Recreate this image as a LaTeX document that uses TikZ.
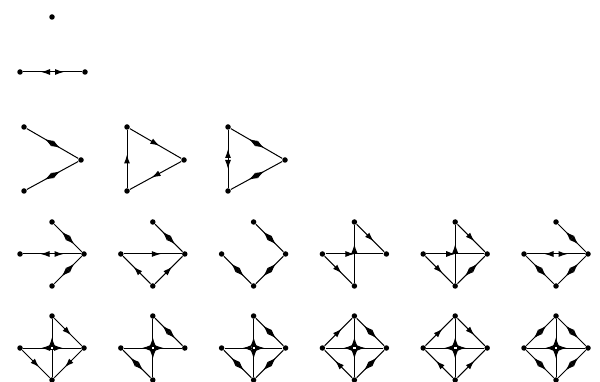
\documentclass[tikz,border=0pt]{standalone}
\usepackage{tikz}
\usetikzlibrary{arrows.meta,decorations.markings}

\tikzset{
  vtx/.style={circle,fill,inner sep=0pt,minimum size=5.5pt},
  hub/.style={draw,fill=white,inner sep=0pt,minimum size=3.5pt,line width=0.6pt},
  one/.style={postaction={decorate},decoration={markings,
    mark=at position 0.5 with {\arrow[xshift=#1]{Latex[length=9pt,width=6pt]}}}},
  one/.default=4.5pt,
  two/.style={postaction={decorate},decoration={markings,
    mark=at position 0.5 with {\arrow[xshift=#1+9pt]{Latex[length=9pt,width=6pt]}},
    mark=at position 0.5 with {\arrowreversed[xshift=-#1-9pt]{Latex[length=9pt,width=6pt]}}}},
  two/.default=0pt
}

\begin{document}
\begin{tikzpicture}[x=1pt, y=-1pt, line width=1pt]
\useasboundingbox (0,0) rectangle (600,382);

% one vertex, two vertices
\node[vtx] (s) at (52,17) {};
\node[vtx] (p1) at (20,72) {};
\node[vtx] (p2) at (85,72) {};
\draw[two=2.5pt] (p1) -- (p2);

% three vertices
\foreach \i/\x in {1/24,2/127,3/228}{
  \node[vtx] (t\i a) at (\x,127) {};
  \node[vtx] (t\i c) at (\x+57,160) {};
  \node[vtx] (t\i b) at (\x,191) {};
}
\draw[two] (t1a) -- (t1c);
\draw[two] (t1b) -- (t1c);
\draw[one] (t2b) -- (t2a);
\draw[one] (t2a) -- (t2c);
\draw[one] (t2c) -- (t2b);
\draw[two=1pt] (t3a) -- (t3b);
\draw[two] (t3a) -- (t3c);
\draw[two] (t3b) -- (t3c);

% four vertices
\foreach \i/\x in {1/52,2/152.8,3/253.6,4/354.4,5/455.2,6/556}{
  \foreach \p/\y in {d/254,e/348}{
    \node[vtx] (\p\i t) at (\x,\y-32) {};
    \node[vtx] (\p\i l) at (\x-32,\y) {};
    \node[vtx] (\p\i r) at (\x+32,\y) {};
    \node[vtx] (\p\i b) at (\x,\y+32) {};
  }
}

% row of four
\draw[two] (d1t) -- (d1r);
\draw[two=2.5pt] (d1l) -- (d1r);
\draw[two] (d1b) -- (d1r);

\draw[two] (d2t) -- (d2r);
\draw[one=8pt] (d2l) -- (d2r);
\draw[one] (d2b) -- (d2r);
\draw[one] (d2b) -- (d2l);

\draw[two] (d3t) -- (d3r);
\draw[two] (d3l) -- (d3b);
\draw[two] (d3b) -- (d3r);

\draw[one] (d4t) -- (d4r);
\draw[one=0pt] (d4l) -- (d4r);
\draw[one=10pt] (d4b) -- (d4t);
\draw[one] (d4l) -- (d4b);

\draw[one] (d5t) -- (d5r);
\draw[one=0pt] (d5l) -- (d5r);
\draw[one=10pt] (d5b) -- (d5t);
\draw[one] (d5l) -- (d5b);
\draw[two] (d5b) -- (d5r);

\draw[two] (d6t) -- (d6r);
\draw[two=2.5pt] (d6l) -- (d6r);
\draw[two] (d6l) -- (d6b);
\draw[two] (d6b) -- (d6r);

% last row, crossing in the middle
\draw[one] (e1t) -- (e1r);
\draw[two=2pt] (e1l) -- (e1r);
\draw[one=11pt] (e1b) -- (e1t);
\draw[one] (e1l) -- (e1b);
\draw[one] (e1r) -- (e1b);

\draw[two] (e2t) -- (e2r);
\draw[two=2pt] (e2l) -- (e2r);
\draw[two=2pt] (e2t) -- (e2b);
\draw[two] (e2l) -- (e2b);

\draw[two] (e3t) -- (e3r);
\draw[two=2pt] (e3l) -- (e3r);
\draw[two=2pt] (e3t) -- (e3b);
\draw[two] (e3l) -- (e3b);
\draw[two] (e3b) -- (e3r);

\draw[one] (e4l) -- (e4t);
\draw[two] (e4t) -- (e4r);
\draw[two=2pt] (e4l) -- (e4r);
\draw[two=2pt] (e4t) -- (e4b);
\draw[one] (e4b) -- (e4l);
\draw[two] (e4b) -- (e4r);

\draw[one] (e5l) -- (e5t);
\draw[one] (e5t) -- (e5r);
\draw[two=2pt] (e5l) -- (e5r);
\draw[two=2pt] (e5t) -- (e5b);
\draw[one] (e5b) -- (e5l);
\draw[one] (e5b) -- (e5r);

\draw[two] (e6l) -- (e6t);
\draw[two] (e6t) -- (e6r);
\draw[two=2pt] (e6l) -- (e6r);
\draw[two=2pt] (e6t) -- (e6b);
\draw[two] (e6l) -- (e6b);
\draw[two] (e6b) -- (e6r);

\foreach \i in {1,...,6}
  \node[hub] (e\i c) at (e\i t |- e\i l) {};
\end{tikzpicture}
\end{document}
